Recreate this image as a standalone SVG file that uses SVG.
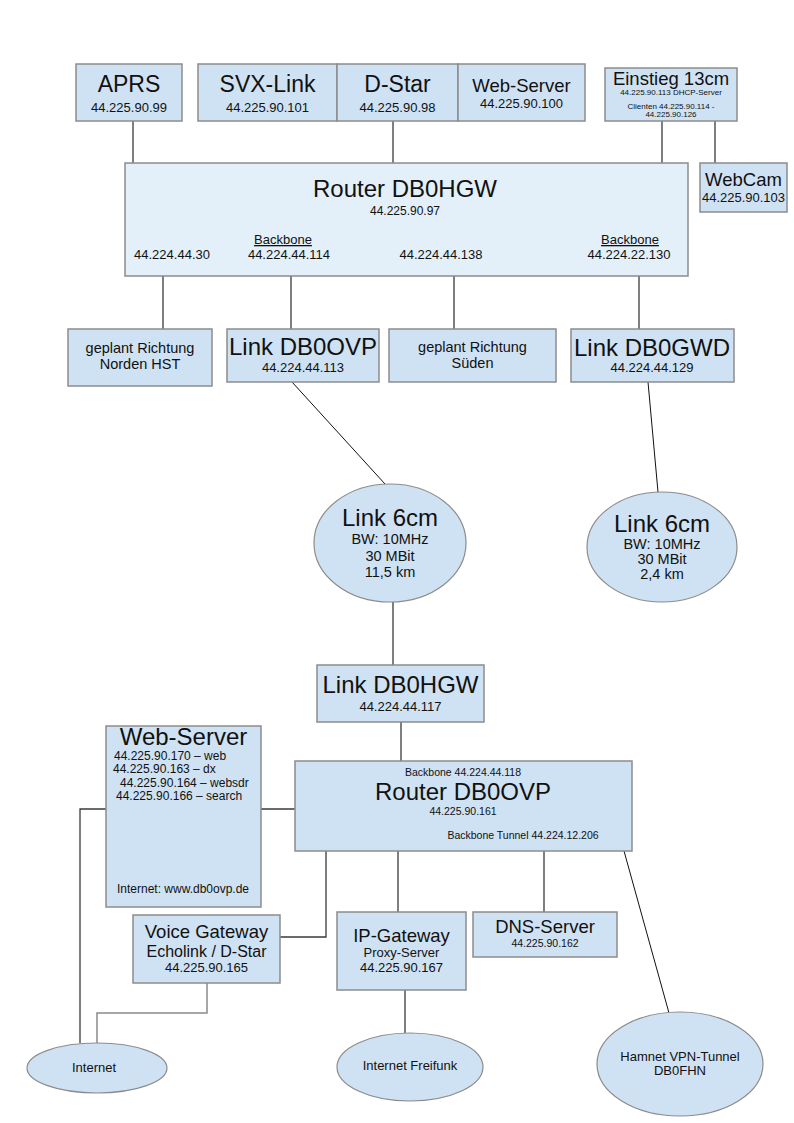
<svg xmlns="http://www.w3.org/2000/svg" width="794" height="1123" viewBox="0 0 794 1123">
<style>
  text { font-family: "Liberation Sans", Arial, sans-serif; fill: #111; text-anchor: middle; }
  .box { fill: #cfe2f3; stroke: #8c8c8c; stroke-width: 1.5; }
  .rtr { fill: #e3eff9; stroke: #8c8c8c; stroke-width: 1.5; }
  .ell { fill: #cfe2f3; stroke: #8c8c8c; stroke-width: 1.2; }
  .c { fill: none; stroke: #3a3a3a; stroke-width: 1.3; }
  .d { fill: none; stroke: #111; stroke-width: 1; }
  .g { fill: none; stroke: #8a8a8a; stroke-width: 1.5; }
  .t24 { font-size: 24px; }
  .t23 { font-size: 23px; }
  .t18 { font-size: 18.5px; }
  .t16 { font-size: 16px; }
  .t145 { font-size: 14.5px; }
  .t13 { font-size: 13px; }
  .t12 { font-size: 12px; }
  .t105 { font-size: 10.5px; }
  .t8 { font-size: 8px; }
  .l { text-anchor: start; }
</style>
<rect width="794" height="1123" fill="#ffffff"/>

<g id="connectors">
  <path class="c" d="M133,121 V163"/>
  <path class="c" d="M393,121 V163"/>
  <path class="c" d="M662,121 V163"/>
  <path class="c" d="M715,121 V163"/>
  <path class="c" d="M163,276 V329"/>
  <path class="c" d="M291,276 V329"/>
  <path class="c" d="M454,276 V329"/>
  <path class="c" d="M639,276 V329"/>
  <path class="d" d="M292,382 L385,484"/>
  <path class="d" d="M648,382 L658,492"/>
  <path class="c" d="M393,602 V665"/>
  <path class="c" d="M401,722 V761"/>
  <path class="c" d="M261,809 H295"/>
  <path class="c" d="M106,809 H80 V1043"/>
  <path class="c" d="M326,851 V937 H280"/>
  <path class="c" d="M398,851 V912"/>
  <path class="c" d="M544,851 V912"/>
  <path class="d" d="M624,851 L669,1013"/>
  <path class="c" d="M405,990 V1033"/>
  <path class="g" d="M207,983 V1013 H97 V1043"/>
</g>

<g id="aprs">
  <rect class="box" x="76" y="64" width="106" height="57"/>
  <text class="t23" x="129" y="92">APRS</text>
  <text class="t13" x="129" y="112">44.225.90.99</text>
</g>
<g id="svx-link">
  <rect class="box" x="198" y="64" width="139" height="57"/>
  <text class="t23" x="267.5" y="92">SVX-Link</text>
  <text class="t13" x="267.5" y="112">44.225.90.101</text>
</g>
<g id="d-star">
  <rect class="box" x="337" y="64" width="121" height="57"/>
  <text class="t23" x="397.5" y="92">D-Star</text>
  <text class="t13" x="397.5" y="112">44.225.90.98</text>
</g>
<g id="web-server-top">
  <rect class="box" x="458" y="64" width="127" height="57"/>
  <text class="t18" x="521.5" y="92">Web-Server</text>
  <text class="t13" x="521.5" y="108">44.225.90.100</text>
</g>
<g id="einstieg">
  <rect class="box" x="605" y="68" width="132" height="53"/>
  <text class="t18" x="671" y="85">Einstieg 13cm</text>
  <text class="t8" x="671" y="95">44.225.90.113 DHCP-Server</text>
  <text class="t8" x="671" y="109">Clienten 44.225.90.114 -</text>
  <text class="t8" x="671" y="117">44.225.90.126</text>
</g>
<g id="webcam">
  <rect class="box" x="700" y="163" width="87" height="49"/>
  <text class="t18" x="743.5" y="186">WebCam</text>
  <text class="t13" x="743.5" y="202">44.225.90.103</text>
</g>

<g id="router-db0hgw">
  <rect class="rtr" x="125" y="163" width="563" height="113"/>
  <text class="t24" x="405" y="197">Router DB0HGW</text>
  <text class="t12" x="405" y="215">44.225.90.97</text>
  <text class="t13" x="172" y="259">44.224.44.30</text>
  <text class="t13" x="283" y="244" text-decoration="underline">Backbone</text>
  <text class="t13" x="289" y="259">44.224.44.114</text>
  <text class="t13" x="441" y="259">44.224.44.138</text>
  <text class="t13" x="630" y="244" text-decoration="underline">Backbone</text>
  <text class="t13" x="629" y="259">44.224.22.130</text>
</g>

<g id="geplant-norden">
  <rect class="box" x="68" y="329" width="144" height="57"/>
  <text class="t145" x="140" y="353">geplant Richtung</text>
  <text class="t145" x="140" y="369">Norden HST</text>
</g>
<g id="link-db0ovp">
  <rect class="box" x="227" y="329" width="152" height="53"/>
  <text class="t24" x="303" y="355">Link DB0OVP</text>
  <text class="t13" x="303" y="372">44.224.44.113</text>
</g>
<g id="geplant-sueden">
  <rect class="box" x="389" y="329" width="167" height="53"/>
  <text class="t145" x="472.5" y="352">geplant Richtung</text>
  <text class="t145" x="472.5" y="368">Süden</text>
</g>
<g id="link-db0gwd">
  <rect class="box" x="571" y="329" width="163" height="53"/>
  <text class="t24" x="652" y="356">Link DB0GWD</text>
  <text class="t13" x="652" y="372">44.224.44.129</text>
</g>

<g id="link-6cm-1">
  <ellipse class="ell" cx="390" cy="543" rx="76" ry="59"/>
  <text class="t24" x="390" y="526">Link 6cm</text>
  <text class="t145" x="390" y="544">BW: 10MHz</text>
  <text class="t145" x="390" y="561">30 MBit</text>
  <text class="t145" x="390" y="577">11,5 km</text>
</g>
<g id="link-6cm-2">
  <ellipse class="ell" cx="662" cy="547" rx="75" ry="55"/>
  <text class="t24" x="662" y="532">Link 6cm</text>
  <text class="t145" x="662" y="549">BW: 10MHz</text>
  <text class="t145" x="662" y="564">30 MBit</text>
  <text class="t145" x="662" y="579">2,4 km</text>
</g>

<g id="link-db0hgw">
  <rect class="box" x="317" y="665" width="167" height="57"/>
  <text class="t24" x="400.5" y="693">Link DB0HGW</text>
  <text class="t13" x="400.5" y="711">44.224.44.117</text>
</g>

<g id="router-db0ovp">
  <rect class="box" x="295" y="761" width="337" height="90"/>
  <text class="t105" x="463" y="776">Backbone 44.224.44.118</text>
  <text class="t24" x="463" y="800">Router DB0OVP</text>
  <text class="t105" x="463" y="815">44.225.90.161</text>
  <text class="t105" x="523" y="839">Backbone Tunnel 44.224.12.206</text>
</g>

<g id="web-server">
  <rect class="box" x="106" y="726" width="155" height="181"/>
  <text class="t24" x="183.5" y="745">Web-Server</text>
  <text class="t12 l" x="114" y="760">44.225.90.170 – web</text>
  <text class="t12 l" x="113" y="773">44.225.90.163 – dx</text>
  <text class="t12 l" x="120" y="787">44.225.90.164 – websdr</text>
  <text class="t12 l" x="116" y="800">44.225.90.166 – search</text>
  <text class="t12" x="183" y="893">Internet: www.db0ovp.de</text>
</g>

<g id="voice-gateway">
  <rect class="box" x="133" y="915" width="147" height="68"/>
  <text class="t18" x="206.5" y="938">Voice Gateway</text>
  <text class="t16" x="206.5" y="957">Echolink / D-Star</text>
  <text class="t13" x="206.5" y="972">44.225.90.165</text>
</g>

<g id="ip-gateway">
  <rect class="box" x="337" y="912" width="129" height="78"/>
  <text class="t18" x="401.5" y="942">IP-Gateway</text>
  <text class="t13" x="401.5" y="957">Proxy-Server</text>
  <text class="t13" x="401.5" y="972">44.225.90.167</text>
</g>

<g id="dns-server">
  <rect class="box" x="473" y="912" width="144" height="45"/>
  <text class="t18" x="545" y="933">DNS-Server</text>
  <text class="t105" x="545" y="947">44.225.90.162</text>
</g>

<g id="internet">
  <ellipse class="ell" cx="97" cy="1068" rx="70" ry="25"/>
  <text class="t13" x="94" y="1072">Internet</text>
</g>
<g id="internet-freifunk">
  <ellipse class="ell" cx="410" cy="1067" rx="73" ry="34"/>
  <text class="t13" x="410" y="1070">Internet Freifunk</text>
</g>
<g id="hamnet">
  <ellipse class="ell" cx="680" cy="1064" rx="83" ry="52"/>
  <text class="t13" x="680" y="1061">Hamnet VPN-Tunnel</text>
  <text class="t13" x="680" y="1075">DB0FHN</text>
</g>
</svg>
